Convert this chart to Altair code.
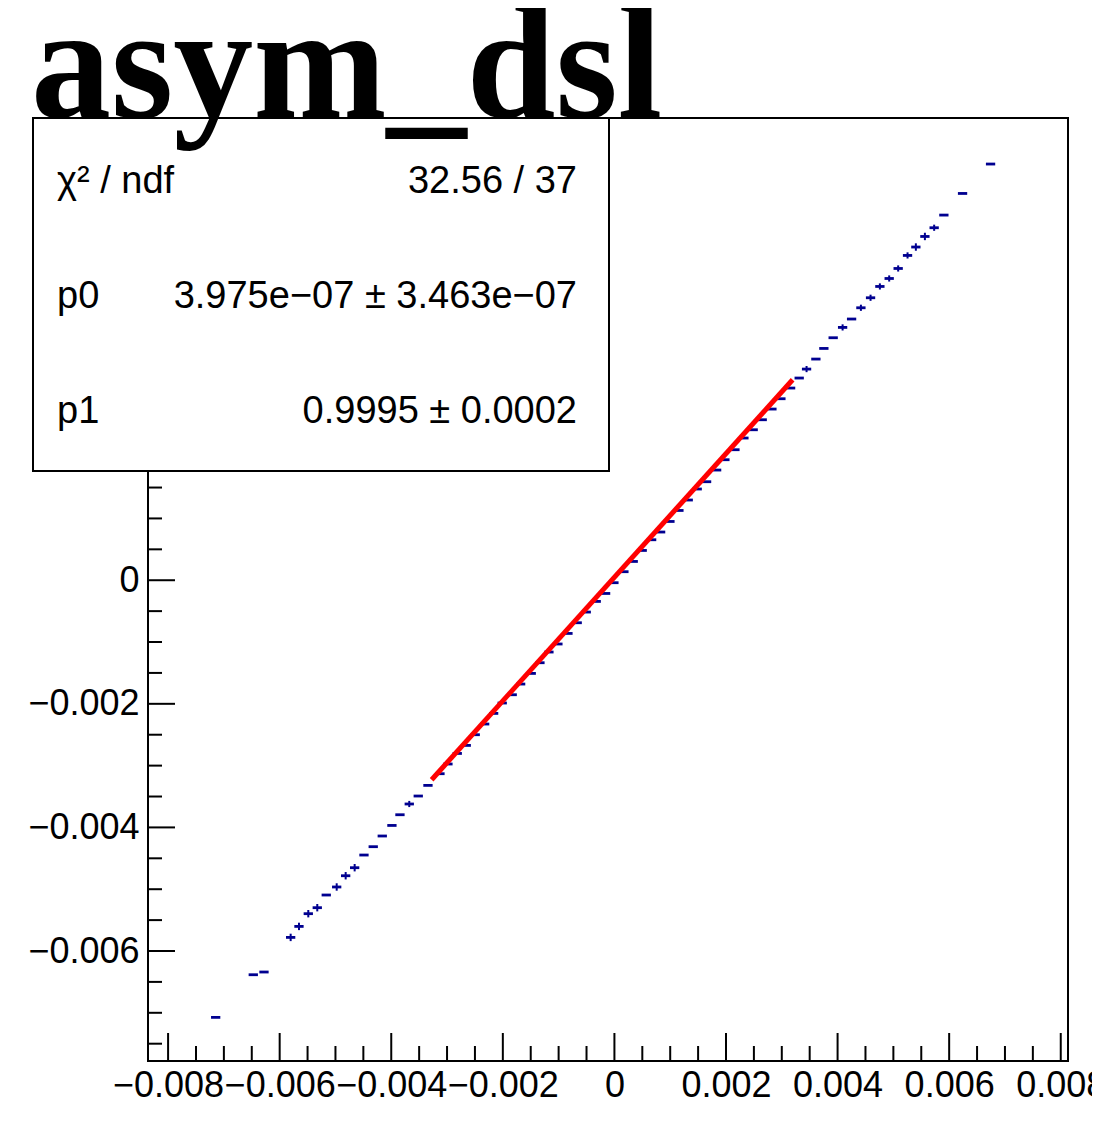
import altair as alt
import pandas as pd

# ---------------- data ----------------
x_vals = [
    -0.007147, -0.006473, -0.006281, -0.005803, -0.005654, -0.005487, -0.005326, -0.005165, -0.004978, -0.004817,
    -0.004656, -0.004489, -0.004323, -0.004161, -0.003988, -0.003844, -0.003677, -0.003516, -0.003342, -0.003127,
    -0.002984, -0.002817, -0.002656, -0.002495, -0.002326, -0.002165, -0.002011, -0.001832, -0.001681, -0.001491,
    -0.001335, -0.001174, -0.001013, -0.000833, -0.000667, -0.000505, -0.000326, -0.000158, -0.000009,
    0.000170, 0.000337, 0.000498, 0.000667, 0.000828, 0.000995, 0.001156, 0.001323, 0.001484, 0.001652,
    0.001832, 0.001980, 0.002160, 0.002321, 0.002487, 0.002649, 0.002823, 0.002984, 0.003158, 0.003312,
    0.003444, 0.003611, 0.003754, 0.003921, 0.004090, 0.004251, 0.004418, 0.004591, 0.004758, 0.004925,
    0.005086, 0.005254, 0.005403, 0.005565, 0.005731, 0.005905, 0.006240, 0.006742,
]
y_vals = [
    -0.007074, -0.006384, -0.006340, -0.005780, -0.005602, -0.005396, -0.005299, -0.005094, -0.004964, -0.004782,
    -0.004652, -0.004447, -0.004312, -0.004139, -0.003968, -0.003795, -0.003621, -0.003492, -0.003320, -0.003131,
    -0.002974, -0.002803, -0.002673, -0.002500, -0.002327, -0.002155, -0.001987, -0.001853, -0.001680, -0.001508,
    -0.001335, -0.001162, -0.001032, -0.000861, -0.000688, -0.000515, -0.000343, -0.000214, -0.000040,
    0.000138, 0.000304, 0.000482, 0.000655, 0.000780, 0.000951, 0.001129, 0.001298, 0.001476, 0.001594,
    0.001783, 0.001950, 0.002112, 0.002301, 0.002435, 0.002597, 0.002770, 0.002937, 0.003110, 0.003272,
    0.003417, 0.003579, 0.003751, 0.003924, 0.004091, 0.004227, 0.004409, 0.004571, 0.004754, 0.004883,
    0.005045, 0.005256, 0.005392, 0.005563, 0.005704, 0.005909, 0.006259, 0.006735,
]
y_err = [
    0, 0, 0, 0.00006, 0.00006, 0.00006, 0.00006, 0, 0.00006, 0.00006,
    0.00006, 0, 0, 0, 0, 0, 0.00005, 0, 0, 0,
    0, 0, 0, 0, 0, 0, 0, 0, 0, 0,
    0, 0, 0, 0, 0, 0, 0, 0, 0,
    0, 0, 0, 0, 0, 0, 0, 0, 0, 0,
    0, 0, 0, 0, 0, 0, 0, 0, 0, 0,
    0.00005, 0, 0, 0, 0.00005, 0, 0.00005, 0.00005, 0.00005, 0.00005,
    0.00005, 0.00005, 0.00006, 0.00006, 0.00005, 0, 0, 0,
]
x_half_bin = 0.0000833

fit_x = [-0.003276, 0.003194]
fit_y = [-0.003228, 0.003244]

x_major = [-0.008, -0.006, -0.004, -0.002, 0.0, 0.002, 0.004, 0.006, 0.008]
x_minor = [-0.0075, -0.007, -0.0065, -0.0055, -0.005, -0.0045, -0.0035, -0.003, -0.0025,
           -0.0015, -0.001, -0.0005, 0.0005, 0.001, 0.0015, 0.0025, 0.003, 0.0035,
           0.0045, 0.005, 0.0055, 0.0065, 0.007, 0.0075]
y_major = [-0.006, -0.004, -0.002, 0.0, 0.002, 0.004, 0.006]
y_minor = [-0.0075, -0.007, -0.0065, -0.0055, -0.005, -0.0045, -0.0035, -0.003, -0.0025,
           -0.0015, -0.001, -0.0005, 0.0005, 0.001, 0.0015, 0.0025, 0.003, 0.0035,
           0.0045, 0.005, 0.0055, 0.0065, 0.007]

stat_names = ["χ² / ndf", "p0", "p1"]
stat_values = ["32.56 / 37", "3.975e−07 ± 3.463e−07", "0.9995 ± 0.0002"]
title_text = "asym_dsl"

# ---------------- layout / style ----------------
W, H = 920, 943
BLUE = "#000090"
FONT = "Liberation Sans"

xscale = alt.Scale(domain=[-0.00836, 0.00813], nice=False, zero=False)
yscale = alt.Scale(domain=[-0.00778, 0.00748], nice=False, zero=False)

xaxis = alt.Axis(values=x_major, format="~g", labelFont=FONT, labelFontSize=36,
                 labelColor="black", labelPadding=7, ticks=False, tickSize=0,
                 domain=False, grid=False, title=None, labelOverlap=False,
                 labelFlush=False, labelBound=False, zindex=0)
yaxis = alt.Axis(values=y_major, format="~g", labelFont=FONT, labelFontSize=36,
                 labelColor="black", labelPadding=9, ticks=False, tickSize=0,
                 domain=False, grid=False, title=None, labelOverlap=False,
                 labelFlush=False, labelBound=False, zindex=0)

pts = pd.DataFrame({"x": x_vals, "y": y_vals, "err": y_err})

bars = alt.Chart(pts).transform_calculate(
    xlo=f"datum.x - {x_half_bin}", xhi=f"datum.x + {x_half_bin}"
).mark_rule(color=BLUE, strokeWidth=2.8).encode(
    x=alt.X("xlo:Q", scale=xscale, axis=xaxis),
    x2="xhi:Q",
    y=alt.Y("y:Q", scale=yscale, axis=yaxis),
)

errs = alt.Chart(pts).transform_filter("datum.err > 0").transform_calculate(
    ylo="datum.y - datum.err", yhi="datum.y + datum.err"
).mark_rule(color=BLUE, strokeWidth=2).encode(
    x=alt.X("x:Q", scale=xscale, axis=xaxis),
    y=alt.Y("ylo:Q", scale=yscale, axis=yaxis),
    y2="yhi:Q",
)

fit = alt.Chart(pd.DataFrame({"x": fit_x, "y": fit_y})).mark_line(
    color="#ff0000", strokeWidth=5
).encode(
    x=alt.X("x:Q", scale=xscale, axis=xaxis),
    y=alt.Y("y:Q", scale=yscale, axis=yaxis),
)

def xticks(vals, length):
    return alt.Chart(pd.DataFrame({"t": vals})).mark_rule(color="black", strokeWidth=2).encode(
        x=alt.X("t:Q", scale=xscale, axis=xaxis),
        y=alt.value(H),
        y2=alt.value(H - length),
    )

def yticks(vals, length):
    return alt.Chart(pd.DataFrame({"t": vals})).mark_rule(color="black", strokeWidth=2).encode(
        y=alt.Y("t:Q", scale=yscale, axis=yaxis),
        x=alt.value(0),
        x2=alt.value(length),
    )

one = pd.DataFrame({"k": [0]})

box = alt.Chart(one).mark_rect(fill="white", stroke="black", strokeWidth=2).encode(
    x=alt.value(-115), x2=alt.value(461), y=alt.value(0), y2=alt.value(353)
)

stat_layers = []
for i, (name, val) in enumerate(zip(stat_names, stat_values)):
    yb = 75 + i * 115
    stat_layers.append(
        alt.Chart(one).mark_text(align="left", baseline="alphabetic", font=FONT,
                                 fontSize=38, color="black", text=name)
        .encode(x=alt.value(-91), y=alt.value(yb))
    )
    stat_layers.append(
        alt.Chart(one).mark_text(align="right", baseline="alphabetic", font=FONT,
                                 fontSize=38, color="black", text=val)
        .encode(x=alt.value(429), y=alt.value(yb))
    )

title = alt.Chart(one).mark_text(align="left", baseline="alphabetic",
                                 font="Liberation Serif", fontWeight="bold",
                                 fontSize=160, color="black", text=title_text).encode(
    x=alt.value(-117), y=alt.value(-1)
)

chart = alt.layer(
    bars, errs, fit,
    xticks(x_major, 28), xticks(x_minor, 15),
    yticks(y_major, 27), yticks(y_minor, 14),
    box, *stat_layers, title,
).properties(
    width=W, height=H,
    autosize=alt.AutoSizeParams(type="none"),
    padding={"left": 140, "top": 110, "right": 24, "bottom": 59},
    background="white",
).configure_view(stroke="black", strokeWidth=2)

chart.save("out.html", embed_options={"renderer": "svg", "actions": False})
